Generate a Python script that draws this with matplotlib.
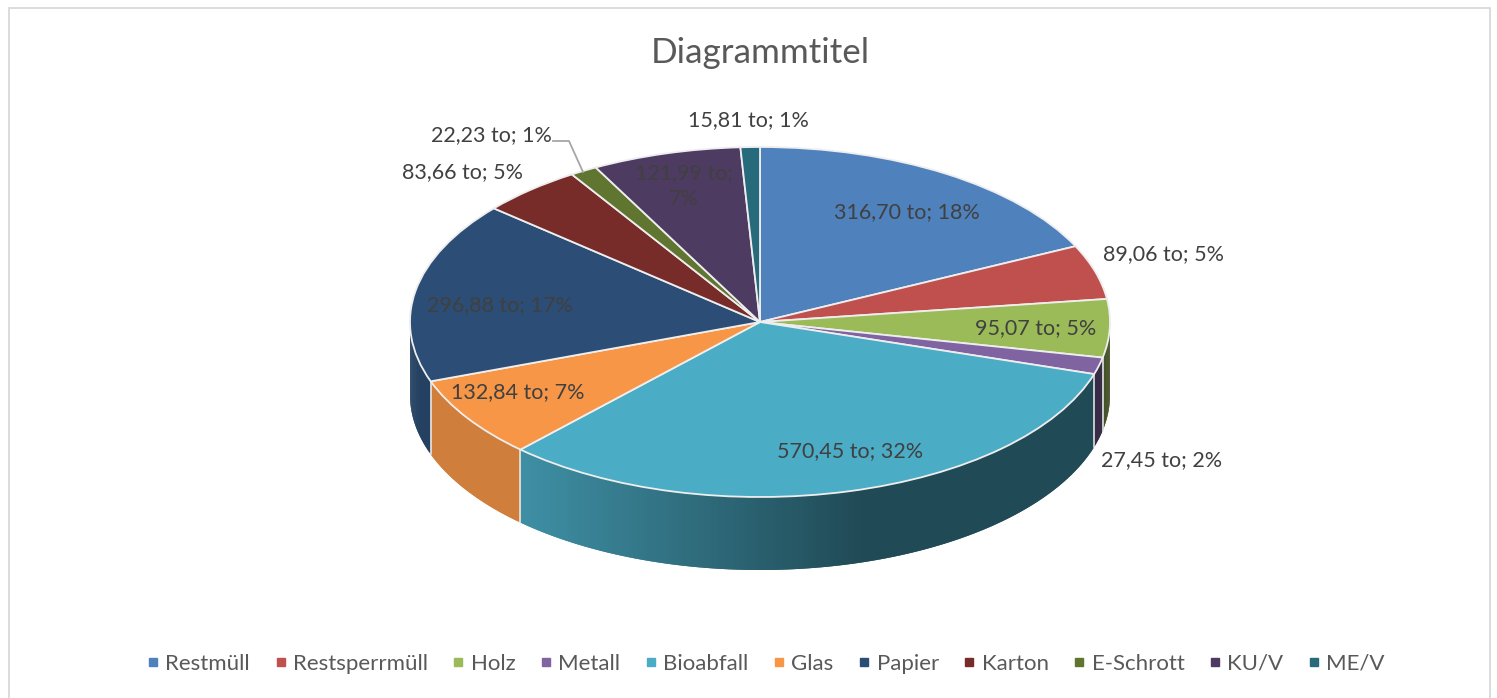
import numpy as np
import matplotlib
matplotlib.use("Agg")
import matplotlib.pyplot as plt
from matplotlib.collections import PolyCollection
from matplotlib.lines import Line2D
from matplotlib.patches import Rectangle
from matplotlib.colors import to_rgb

plt.rcParams['font.family'] = ['Lato', 'DejaVu Sans']

# Daten
categories = ["Restmüll", "Restsperrmüll", "Holz", "Metall", "Bioabfall", "Glas",
              "Papier", "Karton", "E-Schrott", "KU/V", "ME/V"]
tonnes = [316.70, 89.06, 95.07, 27.45, 570.45, 132.84, 296.88, 83.66, 22.23, 121.99, 15.81]
colors = ["#4F81BD", "#C0504D", "#9BBB59", "#8064A2", "#4BACC6", "#F79646",
          "#2C4D75", "#772C2A", "#5F7530", "#4D3B62", "#276A7C"]

# Mitte der Beschriftungen in Pixeln
label_pos = [(907, 212), (1164, 254), (1036, 328), (1162, 460), (850, 451), (518, 392),
             (500, 305), (463, 172), (491, 135), (684, 186), (748, 120)]
label_wrap = [False] * 9 + [True, False]

# Geometrie der Torte in Pixeln
WIDTH, HEIGHT = 1497, 698
CX, CY = 760, 322
RX, RY = 350, 175
DEPTH = 73 / RY


def px(x, y):
    return (x - CX) / RX, (CY - y) / RY


def shade(x):
    # Seitenwand wird nach rechts dunkler
    return np.interp(x, [-0.7, 0.3], [0.84, 0.43])


def make_label(v, pct, wrap):
    val = f"{v:.2f}".replace(".", ",")
    sep = "\n" if wrap else " "
    return f"{val} to;{sep}{pct:.0f}%"


fig = plt.figure(figsize=(WIDTH / 100, HEIGHT / 100), dpi=100)
ax = fig.add_axes([0, 0, 1, 1])

wedges, _ = ax.pie(tonnes, colors=colors, startangle=90, counterclock=False, radius=1,
                   wedgeprops={"edgecolor": "#eeeeee", "linewidth": 1.3})
for w in wedges:
    w.set_zorder(3)

ax.set_aspect("auto")
ax.set_xlim((0 - CX) / RX, (WIDTH - CX) / RX)
ax.set_ylim((CY - HEIGHT) / RY, CY / RY)
ax.axis("off")

# Seitenwand, Streifen ueberlappen damit keine Fugen sichtbar sind
total = sum(tonnes)
shares = np.array(tonnes) / total
ends = np.cumsum(shares) * 360
starts = ends - shares * 360
quads = []
quad_colors = []
edges = []
for i in range(len(tonnes)):
    a0 = max(starts[i], 90)
    a1 = min(ends[i], 270)
    if a1 <= a0:
        continue
    angles = np.radians(np.linspace(a0, a1, int((a1 - a0) * 2) + 2))
    base = np.array(to_rgb(colors[i]))
    for k in range(len(angles) - 1):
        t0 = angles[k]
        t1 = angles[min(k + 2, len(angles) - 1)]
        mid = angles[k:k + 2].mean()
        arc = np.linspace(t0, t1, 4)
        top = [(np.sin(t), np.cos(t)) for t in arc]
        bottom = [(np.sin(t), np.cos(t) - DEPTH) for t in arc[::-1]]
        quads.append(top + bottom)
        quad_colors.append(base * shade(np.sin(mid)))
    edges.append(angles[0])

side = PolyCollection(quads, facecolors=quad_colors, edgecolors="none", linewidths=0, zorder=1)
ax.add_collection(side)
for t in edges[1:]:
    ax.plot([np.sin(t), np.sin(t)], [np.cos(t), np.cos(t) - DEPTH], color="#eeeeee", lw=1.1, zorder=2)

# Beschriftungen
for v, s, pos, wrap in zip(tonnes, shares, label_pos, label_wrap):
    x, y = px(*pos)
    ax.text(x, y, make_label(v, s * 100, wrap), ha="center", va="center", fontsize=15.5,
            color="#404040", linespacing=1.35, zorder=5)

# Fuehrungslinie
lx, ly = zip(px(553, 141), px(569, 141), px(583, 172))
ax.plot(lx, ly, color="#a6a6a6", lw=1.3, zorder=4)

ax.text(*px(760, 53), "Diagrammtitel", ha="center", va="center", fontsize=25.2, color="#595959")

# Rahmen
fig.add_artist(Rectangle((9 / WIDTH, -0.02), 1481 / WIDTH, 1.02 - 8 / HEIGHT, transform=fig.transFigure,
                         fill=False, edgecolor="#d9d9d9", lw=1.3))

# Legende
handles = [Line2D([], [], linestyle="none", marker="s", markersize=6, color=c) for c in colors]
ax.legend(handles, categories, loc="center", bbox_to_anchor=(766.5 / WIDTH, 1 - 664 / HEIGHT),
          bbox_transform=fig.transFigure, ncol=len(categories), frameon=False, fontsize=16,
          labelcolor="#595959", handlelength=0.45, handletextpad=0.33, columnspacing=1.15)

fig.savefig("out.png", dpi=100)
